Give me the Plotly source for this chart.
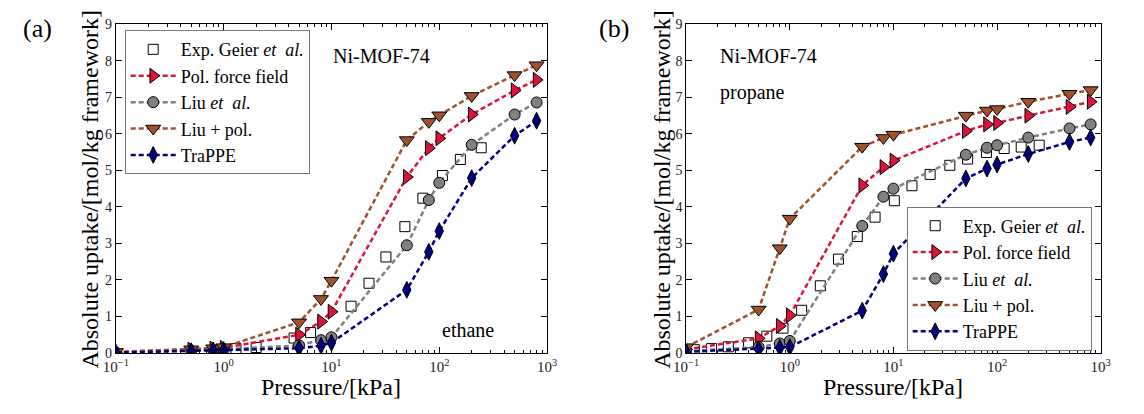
import plotly.graph_objects as go

# ---------------- data ----------------
P_sim = [0.1, 0.5, 0.8, 1.0, 5, 8, 10, 50, 80, 100, 200, 500, 800]

# (a) ethane
exp_eth_P = [1.3, 2.0, 4.5, 6.4, 15.2, 22.3, 32, 48, 70.5, 107, 157, 245]
exp_eth = [0.12, 0.15, 0.41, 0.56, 1.28, 1.91, 2.63, 3.46, 4.24, 4.86, 5.30, 5.62]
pol_eth = [0.02, 0.09, 0.12, 0.14, 0.50, 0.86, 1.13, 4.82, 5.61, 5.88, 6.53, 7.19, 7.48]
liu_eth = [0.01, 0.06, 0.08, 0.10, 0.21, 0.35, 0.43, 2.95, 4.19, 4.66, 5.70, 6.53, 6.86]
liupol_eth = [0.03, 0.10, 0.13, 0.16, 0.84, 1.48, 1.98, 5.83, 6.33, 6.51, 7.04, 7.61, 7.88]
trappe_eth = [0.01, 0.05, 0.07, 0.08, 0.13, 0.20, 0.28, 1.73, 2.77, 3.34, 4.79, 5.95, 6.36]

# (b) propane
exp_pro_P = [0.12, 0.176, 0.255, 0.40, 0.60, 0.86, 1.3, 1.97, 2.95, 4.48, 6.65, 10.2,
             15.1, 22.6, 35, 52, 79, 117, 171, 255]
exp_pro = [0.09, 0.12, 0.17, 0.28, 0.46, 0.68, 1.17, 1.84, 2.57, 3.19, 3.72, 4.17,
           4.58, 4.89, 5.14, 5.31, 5.49, 5.60, 5.64, 5.69]
pol_pro = [0.10, 0.40, 0.74, 1.03, 4.59, 5.09, 5.27, 6.08, 6.26, 6.30, 6.50, 6.74, 6.88]
liu_pro = [0.05, 0.16, 0.26, 0.33, 3.48, 4.28, 4.50, 5.43, 5.62, 5.69, 5.90, 6.15, 6.26]
liupol_pro = [0.16, 1.19, 2.87, 3.68, 5.65, 5.89, 5.98, 6.50, 6.64, 6.68, 6.88, 7.10, 7.20]
trappe_pro = [0.03, 0.11, 0.14, 0.16, 1.16, 2.16, 2.72, 4.78, 5.05, 5.16, 5.45, 5.78, 5.90]

x_tickvals = [0.1, 1, 10, 100, 1000]
x_ticktext = ["10<sup>\u22121</sup>", "10<sup>0</sup>", "10<sup>1</sup>", "10<sup>2</sup>", "10<sup>3</sup>"]
y_tickvals = [0, 1, 2, 3, 4, 5, 6, 7, 8, 9]

names = ["Exp. Geier <i>et\u00a0 al.</i>", "Pol. force field", "Liu <i>et\u00a0 al.</i>",
         "Liu + pol.", "TraPPE"]

FONT = "Liberation Serif"
RED, GRAY, BROWN, NAVY = "#DC143C", "#808080", "#A0522D", "#000080"

fig = go.Figure()


def add_panel(xa, ya, leg, exp_P, exp_y, pol, liu, liupol, trappe):
    fig.add_trace(go.Scatter(x=exp_P, y=exp_y, mode="markers", name=names[0],
                             xaxis=xa, yaxis=ya, legend=leg,
                             marker=dict(symbol="square", size=10, color="white",
                                         line=dict(color="black", width=1))))
    specs = [(pol, names[1], RED, "triangle-right", 13),
             (liu, names[2], GRAY, "circle", 11),
             (liupol, names[3], BROWN, "triangle-down", 13),
             (trappe, names[4], NAVY, "diamond-tall", 12)]
    for ys, nm, col, sym, sz in specs:
        fig.add_trace(go.Scatter(x=P_sim, y=ys, mode="lines+markers", name=nm,
                                 xaxis=xa, yaxis=ya, legend=leg,
                                 line=dict(color=col, width=2.5, dash="5px,3px"),
                                 marker=dict(symbol=sym, size=sz, color=col,
                                             line=dict(color="black", width=1))))


add_panel("x", "y", "legend", exp_eth_P, exp_eth, pol_eth, liu_eth, liupol_eth, trappe_eth)
add_panel("x2", "y2", "legend2", exp_pro_P, exp_pro, pol_pro, liu_pro, liupol_pro, trappe_pro)

W, H = 1144, 414
ydom = [1 - 359 / H, 1 - 18 / H]
minor_vals = [m * 10 ** e for e in range(-1, 3) for m in range(2, 10)]

xcommon = dict(type="log", range=[-1, 3], showgrid=False, zeroline=False,
               showline=True, linecolor="black", linewidth=1, mirror="allticks",
               ticks="inside", ticklen=6, tickcolor="black",
               tickmode="array", tickvals=x_tickvals, ticktext=x_ticktext,
               tickfont=dict(family=FONT, size=15, color="#222"),
               minor=dict(ticks="inside", ticklen=3, tickcolor="black",
                          tickmode="array", tickvals=minor_vals, showgrid=False))
ycommon = dict(range=[0, 9], showgrid=False, zeroline=False,
               showline=True, linecolor="black", linewidth=1, mirror="allticks",
               ticks="inside", ticklen=6, tickcolor="black",
               tickmode="array", tickvals=y_tickvals,
               tickfont=dict(family=FONT, size=14, color="#222"))

legcommon = dict(font=dict(family=FONT, size=18, color="black"),
                 bordercolor="#777", borderwidth=1, bgcolor="white",
                 itemwidth=45, xanchor="left", yanchor="top")

fig.update_layout(
    width=W, height=H, margin=dict(l=0, r=0, t=0, b=0),
    paper_bgcolor="white", plot_bgcolor="white",
    font=dict(family=FONT),
    xaxis=dict(domain=[105 / W, 545 / W], anchor="y", **xcommon),
    yaxis=dict(domain=ydom, anchor="x", **ycommon),
    xaxis2=dict(domain=[687 / W, 1110 / W], anchor="y2", **xcommon),
    yaxis2=dict(domain=ydom, anchor="x2", **ycommon),
    legend=dict(x=114 / W, y=1 - 24 / H, **legcommon),
    legend2=dict(x=912 / W, y=1 - 207 / H, **legcommon),
    showlegend=True,
)

ann = []
def txt(x, y, s, size, xanchor="left", angle=0):
    ann.append(dict(x=x / W, y=1 - y / H, xref="paper", yref="paper", text=s,
                    showarrow=False, xanchor=xanchor, yanchor="middle",
                    textangle=angle, font=dict(family=FONT, size=size, color="black")))

txt(8, 22, "(a)", 26)
txt(596, 22, "(b)", 26)
txt(325, 51, "Ni-MOF-74", 20)
txt(436, 335, "ethane", 20)
txt(719, 51, "Ni-MOF-74", 20)
txt(719, 89, "propane", 20)
txt(325, 394, "Pressure/[kPa]", 24, xanchor="center")
txt(898, 394, "Pressure/[kPa]", 24, xanchor="center")
txt(79, 189, "Absolute uptake/[mol/kg framework]", 24, xanchor="center", angle=-90)
txt(662, 189, "Absolute uptake/[mol/kg framework]", 24, xanchor="center", angle=-90)
fig.update_layout(annotations=ann)

fig.write_html("out.html")
